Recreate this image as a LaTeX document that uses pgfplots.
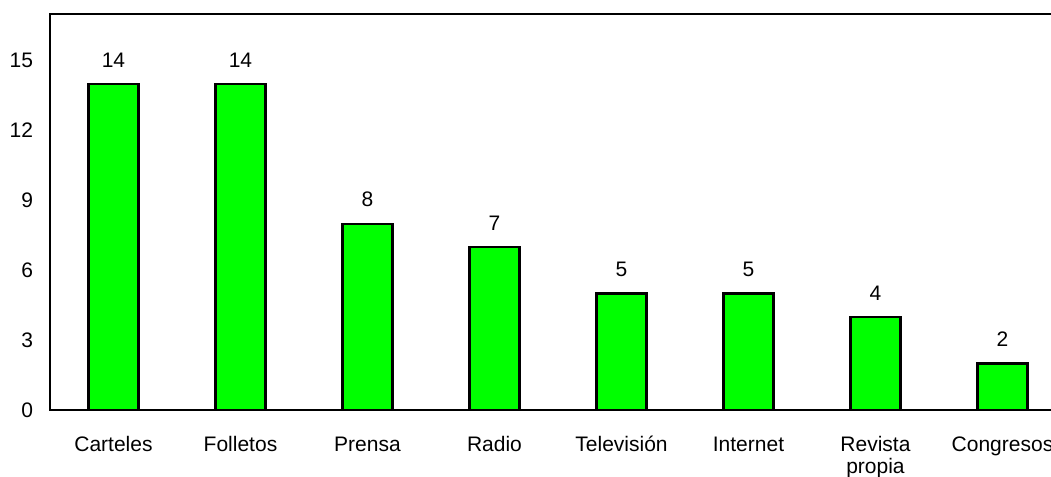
\documentclass[border=0pt]{standalone}
\usepackage{pgfplots}
\pgfplotsset{compat=1.18}
\usepackage{fontspec}
\setmainfont{Liberation Sans}
\definecolor{barGreen}{RGB}{0,255,0}
\newcommand{\up}{\rule{0pt}{8pt}}

\begin{document}
\begin{tikzpicture}
\begin{axis}[
    name=ax,
    scale only axis,
    width=508pt,
    height=198pt,
    xmin=-0.5, xmax=7.5,
    ymin=0, ymax=17,
    ytick={0,3,6,9,12,15},
    xtick=data,
    xticklabels={\up Carteles,\up Folletos,\up Prensa,\up Radio,\up Televisión,\up Internet,{\up Revista\\propia},\up Congresos},
    major tick length=0pt,
    axis line style={line width=1.2pt},
    font=\fontsize{10.5}{12.5}\selectfont,
    tick label style={font=\fontsize{10.5}{11}\selectfont},
    xticklabel style={align=center, yshift=-9pt},
    yticklabel style={xshift=-5pt},
    /pgf/number format/assume math mode=true,
    ybar,
    bar width=25pt,
    nodes near coords,
    nodes near coords style={font=\fontsize{10.5}{12}\selectfont, yshift=4.5pt},
]
\addplot[fill=barGreen, draw=black, line width=1.1pt] coordinates {
    (0,14) (1,14) (2,8) (3,7) (4,5) (5,5) (6,4) (7,2)
};
\end{axis}
\pgfresetboundingbox
\path ([xshift=-25pt,yshift=-33.5pt]ax.south west) rectangle ([xshift=500.5pt,yshift=205pt]ax.south west);
\end{tikzpicture}
\end{document}
